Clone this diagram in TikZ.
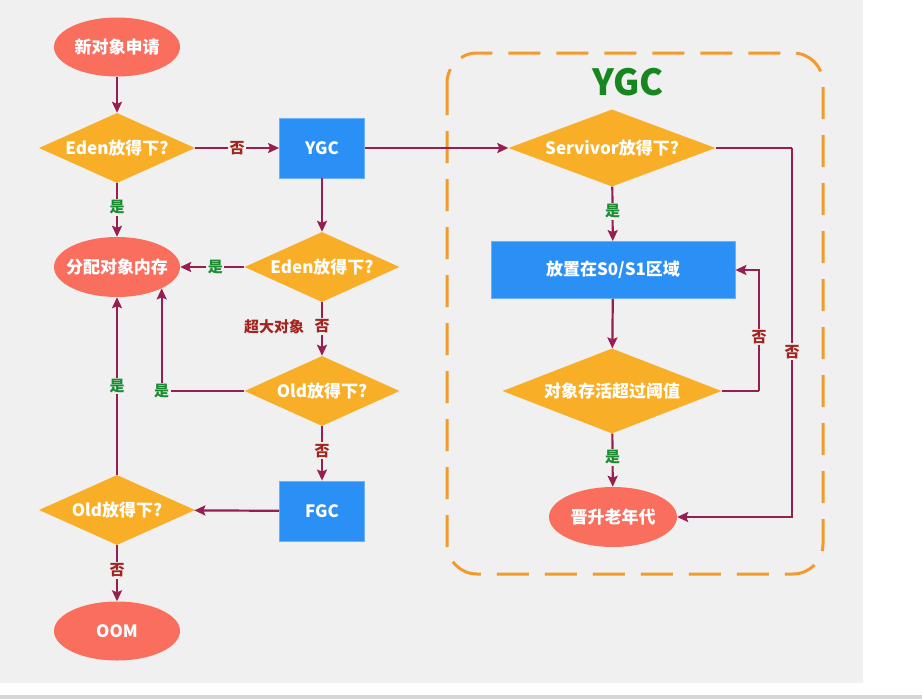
\documentclass[tikz,border=0pt]{standalone}
\usepackage{fontspec}
\setmainfont{Noto Sans CJK SC}
\usetikzlibrary{shapes.geometric,arrows.meta,calc}
\definecolor{pagegray}{HTML}{F0F0F0}
\definecolor{barGray}{HTML}{D6D6D6}
\definecolor{ovalred}{HTML}{FA6E5E}
\definecolor{diaorange}{HTML}{F9AE28}
\definecolor{boxblue}{HTML}{2B90F5}
\definecolor{linkred}{HTML}{971E50}
\definecolor{nored}{HTML}{A3231F}
\definecolor{yesgreen}{HTML}{1B8C32}
\definecolor{titlegreen}{HTML}{16861E}
\definecolor{frameorange}{HTML}{F39A2C}
\tikzset{
  txt/.style={text=white,font=\bfseries\fontsize{17}{19}\selectfont,inner sep=0pt},
  oval/.style={txt,ellipse,fill=ovalred,inner xsep=-7pt,minimum width=126,minimum height=59},
  decide/.style={txt,diamond,fill=diaorange,aspect=2.2},
  proc/.style={txt,rectangle,fill=boxblue,draw=boxblue!70!white,line width=0.8},
  link/.style={draw=linkred,line width=2.2,-{Stealth[length=11,width=10,inset=2]}},
  plain/.style={draw=linkred,line width=2.2},
  lbl/.style={fill=pagegray,inner sep=1.5,font=\bfseries\fontsize{15}{17}\selectfont},
  yes/.style={lbl,text=yesgreen},
  no/.style={lbl,text=nored},
}
\begin{document}
\begin{tikzpicture}[x=1pt,y=-1pt]
% page background
\fill[white] (0,0) rectangle (922,699);
\useasboundingbox (0,0) rectangle (922,699);
\fill[pagegray] (0,0) rectangle (863,683);
\fill[barGray] (0,695) rectangle (922,699);

% dashed YGC frame
\draw[frameorange,line width=3,dash pattern=on 32 off 16,rounded corners=30]
  (447,53) rectangle (823,574);
\node[text=titlegreen,font=\bfseries\fontsize{36}{40}\selectfont,inner sep=0] (title) at (628,82) {YGC};

% left column
\node[oval] (new) at (117,47) {新对象申请};
\node[decide,minimum width=156,minimum height=70] (eden1) at (117,148) {Eden放得下?};
\node[oval,minimum height=60] (alloc) at (117,267) {分配对象内存};
\node[decide,minimum width=156,minimum height=70] (old2) at (117,510) {Old放得下?};
\node[oval] (oom) at (117,631) {OOM};

% middle column
\node[proc,minimum width=85,minimum height=60] (ygc) at (322,148) {YGC};
\node[decide,minimum width=155,minimum height=70] (eden2) at (322,267) {Eden放得下?};
\node[decide,minimum width=155,minimum height=70] (old1) at (322,391) {Old放得下?};
\node[proc,minimum width=85,minimum height=60] (fgc) at (322,511) {FGC};

% survivor column
\node[decide,minimum width=207,minimum height=74] (surv) at (612,148) {Servivor放得下?};
\node[proc,minimum width=244,minimum height=57] (place) at (613,270) {放置在S0/S1区域};
\node[decide,minimum width=219,minimum height=85] (age) at (612,391) {对象存活超过阈值};
\node[oval,minimum width=128,minimum height=60] (promote) at (613,517) {晋升老年代};

\coordinate (survturn) at (792,148);
\coordinate (ageturn) at (759,391);

% connectors
\draw[link] (new) -- (eden1);
\draw[link] (eden1) -- node[no] {否} (ygc);
\draw[link] (eden1) -- node[yes,pos=0.45] {是} (alloc);
\draw[link] (ygc) -- (eden2);
\draw[link] (eden2) -- node[yes,pos=0.45] {是} (alloc);
\draw[link] (eden2) -- node[no,pos=0.45] (no1) {否} (old1);
\node[lbl,text=nored,anchor=east] (big) at ($(no1.west)+(-6,0)$) {超大对象};
\draw[link] (old1.west) -| node[yes,pos=0.5] {是} (alloc.south east);
\draw[link] (old1) -- node[no,pos=0.45] {否} (fgc);
\draw[link] (fgc) -- (old2);
\draw[link] (old2) -- node[yes,pos=0.5] {是} (alloc);
\draw[link] (old2) -- node[no,pos=0.45] {否} (oom);

\draw[link] (ygc) -- (surv);
\draw[link] (surv) -- node[yes,pos=0.45] {是} (place);
\draw[plain] (surv.east) -- (survturn);
\draw[link] (survturn) |- node[no,pos=0.276] {否} (promote.east);
\draw[link] (place) -- (age);
\draw[plain] (age.east) -- (ageturn);
\draw[link] (ageturn) |- node[no,pos=0.223] {否} (place.east);
\draw[link] (age) -- node[yes,pos=0.45] {是} (promote);
\end{tikzpicture}
\end{document}
